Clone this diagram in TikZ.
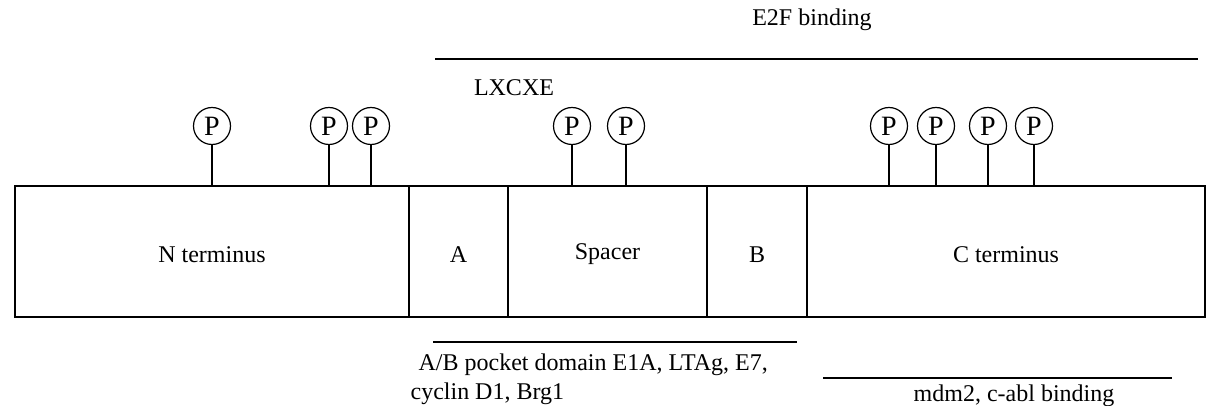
\documentclass[tikz,border=0pt]{standalone}
\usepackage{fontspec}
\setmainfont{Liberation Serif}
\usepackage{tikz}
\usetikzlibrary{fit,positioning}

\begin{document}
\begin{tikzpicture}[x=0.5pt,y=-0.5pt,line width=0.6pt,
  font=\fontsize{12}{14.5}\selectfont,
  dom/.style={draw,rectangle,inner sep=0pt},
  phos/.style={draw,circle,minimum size=18.5pt,inner sep=0pt,
    font=\fontsize{14}{16}\selectfont},
  lbl/.style={inner sep=0pt}]
  \useasboundingbox (0,0) rectangle (1212,406);

  % domains of the protein
  \foreach \n/\l/\r/\t in {nterm/15/409/N terminus, dA/409/508/A,
      spacer/508/707/Spacer, dB/707/807/B, cterm/807/1205/C terminus}
    \node[dom,fit={(\l,186) (\r,317)}] (\n) {\raisebox{-11pt}{\t}};

  % phosphorylation sites
  \foreach \x [count=\i] in {212,329,371,572,626,889,936,988,1034}
  {
    \node[phos] (p\i) at (\x,126) {P};
    \draw (p\i.south) -- (p\i.south |- nterm.north);
  }

  % binding regions
  \node[lbl] (e2f) at (812,20) {E2F binding};
  \coordinate (e2fL) at (435,59);
  \coordinate (e2fR) at (1198,59);
  \draw (e2fL) -- (e2fR);

  \node[lbl] (lxcxe) at (514,88) {LXCXE};

  \coordinate (pockL) at (433,342);
  \coordinate (pockR) at (797,342);
  \draw (pockL) -- (pockR);
  \node[lbl,anchor=north west,align=left] (pocket) at (410,353)
    {\hspace{4pt}A/B pocket domain E1A, LTAg, E7,\\cyclin D1, Brg1};

  \coordinate (mdmL) at (823,378);
  \coordinate (mdmR) at (1172,378);
  \draw (mdmL) -- (mdmR);
  \node[lbl] (mdm) at (1014,396) {mdm2, c-abl binding};
\end{tikzpicture}
\end{document}
